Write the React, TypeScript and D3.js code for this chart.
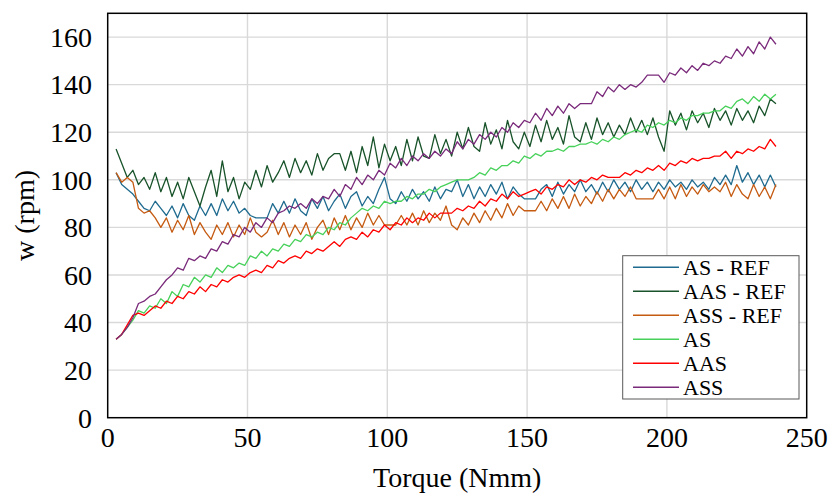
import React from "react";
import * as d3 from "d3";

const torque = [3,5,7,9,11,13,15,17,19,21,23,25,27,29,31,33,35,37,39,41,43,45,47,49,51,53,55,57,59,61,63,65,67,69,71,73,75,77,79,81,83,85,87,89,91,93,95,97,99,101,103,105,107,109,111,113,115,117,119,121,123,125,127,129,131,133,135,137,139,141,143,145,147,149,151,153,155,157,159,161,163,165,167,169,171,173,175,177,179,181,183,185,187,189,191,193,195,197,199,201,203,205,207,209,211,213,215,217,219,221,223,225,227,229,231,233,235,237,239];

const asRef = [
  103,98,96,94,91,88,87,91,88,85,
  89,84,90,85,83,89,85,90,85,92,
  87,91,86,88,85,84,84,84,90,86,
  91,86,92,87,85,92,88,93,87,91,
  94,88,93,95,89,93,90,96,101,92,
  90,95,91,96,92,95,91,97,92,96,
  95,100,93,98,92,97,93,98,94,99,
  92,97,94,92,92,92,96,98,93,99,
  94,98,95,100,95,98,94,99,95,100,
  96,99,95,100,96,99,95,99,96,100,
  97,99,96,100,97,99,96,101,98,102,
  98,106,99,103,98,102,97,102,97];

const aasRef = [
  113,107,101,104,98,101,96,103,95,101,
  93,99,92,101,95,89,97,104,93,108,
  95,101,92,99,96,104,97,106,99,103,
  108,101,109,103,108,102,111,104,109,111,
  111,104,112,103,114,106,118,105,115,108,
  114,106,117,108,118,110,109,119,111,117,
  110,120,113,122,114,112,124,115,121,113,
  125,116,113,120,114,123,116,125,117,122,
  115,127,118,116,124,117,126,119,124,118,
  123,119,126,120,125,119,126,118,112,129,
  123,128,121,129,124,128,122,130,125,129,
  123,130,125,129,124,131,127,134,132];

const assRef = [
  103,99,101,99,88,86,87,84,80,84,
  78,83,79,85,77,82,78,75,81,77,
  82,76,81,77,84,78,76,78,83,77,
  82,76,81,77,82,75,80,83,77,84,
  79,85,79,84,80,86,81,85,81,81,
  81,85,81,86,81,87,82,86,83,89,
  81,79,84,81,86,82,87,83,88,84,
  90,85,89,87,87,87,91,87,92,88,
  93,88,94,89,93,90,95,91,96,92,
  96,93,97,92,92,92,92,96,92,97,
  92,98,93,97,94,98,95,97,95,99,
  93,98,94,92,98,93,97,92,98];

const asS = [33,35,38,41,45,44,47,46,50,48,53,51,56,55,59,57,60,59,63,61,64,63,65,64,68,67,70,68,71,70,73,72,75,74,77,76,78,77,80,79,82,81,84,86,88,87,89,88,91,90,91,91,93,92,94,94,96,95,97,98,99,100,100,100,101,103,102,105,104,106,106,108,107,110,109,111,110,112,112,113,112,114,114,115,115,116,115,117,116,118,117,119,120,121,120,123,122,124,123,125,124,126,125,127,127,128,128,129,129,131,130,133,134,132,135,133,136,134,136];

const aasS = [33,35,39,43,44,43,45,47,46,49,48,51,50,53,52,55,53,56,55,58,57,59,60,59,61,62,61,64,63,66,65,67,68,67,70,69,71,70,72,74,72,75,76,75,78,76,79,78,81,79,82,81,84,82,84,83,86,84,86,86,86,88,87,89,88,91,89,92,91,94,92,95,93,94,95,96,94,97,96,98,97,100,98,100,99,101,100,102,101,101,101,103,102,104,103,105,104,106,104,107,106,108,107,109,108,109,109,110,110,112,109,112,111,113,112,114,113,117,114];

const assS = [33,35,38,42,48,49,51,52,55,58,60,63,62,67,66,68,67,71,70,74,73,77,76,80,78,82,80,84,82,86,87,89,88,90,88,92,90,93,92,96,93,98,96,101,98,102,100,104,102,107,105,109,106,110,108,111,109,112,110,113,111,116,113,117,115,119,117,120,118,122,120,124,122,125,124,128,125,130,127,131,128,132,130,132,132,132,137,135,139,137,140,138,140,139,141,144,144,144,141,145,144,147,145,148,146,149,148,150,149,152,151,155,152,156,153,158,155,160,157];

const seriesNames = ["AS - REF", "AAS - REF", "ASS - REF", "AS", "AAS", "ASS"];
const seriesValues = [asRef, aasRef, assRef, asS, aasS, assS];
const seriesColors = ["#1f6b8f", "#18532a", "#c55a11", "#47d15a", "#ff0000", "#7a2a7a"];

const xTicks = [0, 50, 100, 150, 200, 250];
const yTicks = [0, 20, 40, 60, 80, 100, 120, 140, 160];

const W = 830, H = 495;
const L = 107.7, R = 806.7, T = 13.3, B = 417.7;
const FONT = "'Liberation Serif', 'Times New Roman', serif";
const AXF = 28;

export default function App() {
  const x = d3.scaleLinear().domain([0, 250]).range([L, R]);
  const y = d3.scaleLinear().domain([0, 170]).range([B, T]);
  const line = d3.line<number>().x((_, i) => x(torque[i])).y((v) => y(v));
  const legX = 622.7, legY = 255.7, legW = 176.3, legH = 143.3;
  return (
    <svg width={W} height={H} style={{ position: "absolute", left: 0, top: 0, background: "#fff" }}>
      <rect x={0} y={0} width={W} height={H} fill="#fff" />
      {yTicks.filter((t) => t > 0).map((t) => (
        <line key={"gy" + t} x1={L} x2={R} y1={y(t)} y2={y(t)} stroke="#d9d9d9" strokeWidth={1.4} />
      ))}
      {xTicks.filter((t) => t > 0 && t < 250).map((t) => (
        <line key={"gx" + t} x1={x(t)} x2={x(t)} y1={T} y2={B} stroke="#d9d9d9" strokeWidth={1.4} />
      ))}
      {seriesValues.map((vals, k) => (
        <path key={seriesNames[k]} d={line(vals) || ""} fill="none" stroke={seriesColors[k]} strokeWidth={1.3} strokeLinejoin="round" />
      ))}
      <rect x={L} y={T} width={R - L} height={B - T} fill="none" stroke="#000" strokeWidth={1.5} />
      {yTicks.map((t) => (
        <text key={"ty" + t} x={92} y={y(t)} dy="0.35em" textAnchor="end" fontFamily={FONT} fontSize={AXF} fill="#000">{t}</text>
      ))}
      {xTicks.map((t) => (
        <text key={"tx" + t} x={x(t)} y={437} dy="0.35em" textAnchor="middle" fontFamily={FONT} fontSize={AXF} fill="#000">{t}</text>
      ))}
      <text x={(L + R) / 2} y={477} dy="0.35em" textAnchor="middle" fontFamily={FONT} fontSize={AXF} fill="#000">Torque (Nmm)</text>
      <text transform={`translate(24,${(T + B) / 2}) rotate(-90)`} dy="0.35em" textAnchor="middle" fontFamily={FONT} fontSize={AXF} fill="#000">w (rpm)</text>
      <rect x={legX} y={legY} width={legW} height={legH} fill="#fff" stroke="#595959" strokeWidth={1} />
      {seriesNames.map((n, i) => (
        <g key={"lg" + n}>
          <line x1={633} x2={679} y1={267.3 + 24 * i} y2={267.3 + 24 * i} stroke={seriesColors[i]} strokeWidth={1.5} />
          <text x={683} y={267.3 + 24 * i} dy="0.35em" fontFamily={FONT} fontSize={22} fill="#000">{n}</text>
        </g>
      ))}
    </svg>
  );
}
